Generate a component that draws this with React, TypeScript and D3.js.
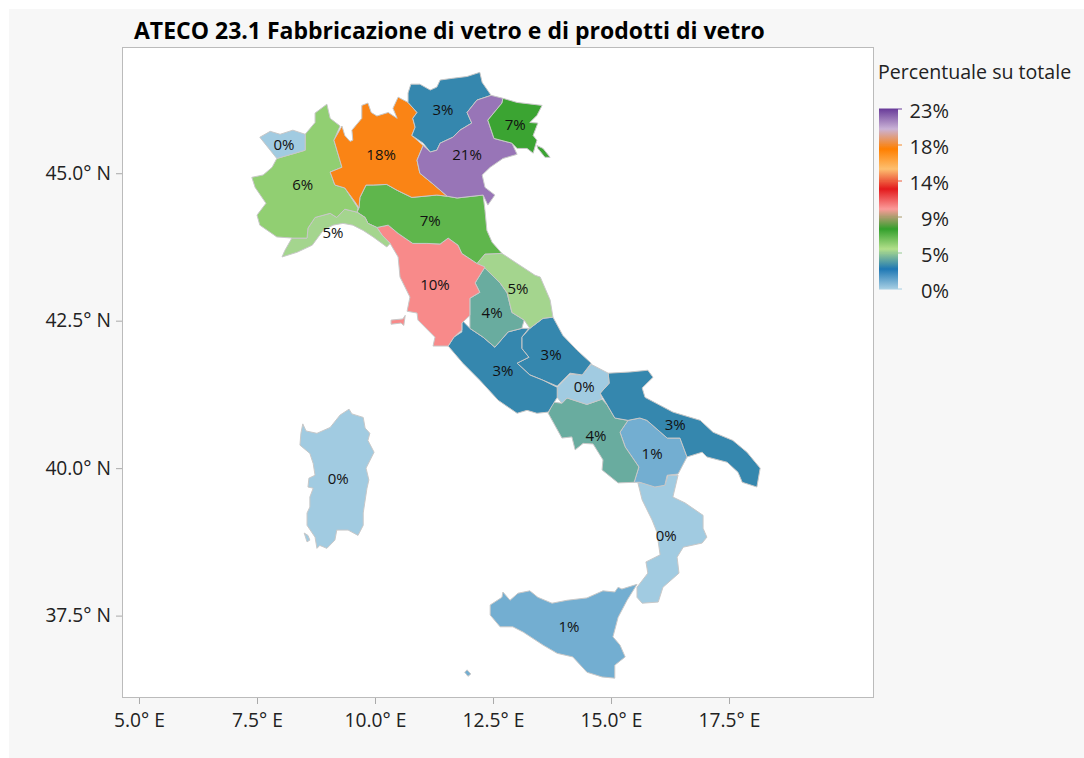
import * as d3 from "d3";
import { useEffect, useRef } from "react";

const W = 1084;
const H = 758;
const plot = { left: 122, right: 873, top: 47, bottom: 697 };

const titleText = "ATECO 23.1 Fabbricazione di vetro e di prodotti di vetro";
const legendTitle = "Percentuale su totale";
const lonTicks = [5, 7.5, 10, 12.5, 15, 17.5];
const latTicks = [37.5, 40, 42.5, 45];
const legendMax = 22.7;
const palette = ["#a6cee3", "#1f78b4", "#b2df8a", "#33a02c", "#fb9a99", "#e31a1c", "#fdbf6f", "#ff7f00", "#cab2d6", "#6a3d9a"];

type Ring = [number, number][];

const valleAosta: Ring = [[7.56, 45.61], [7.78, 45.71], [7.99, 45.66], [8.26, 45.73], [8.52, 45.66], [8.52, 45.39], [8.31, 45.34], [7.92, 45.25], [7.78, 45.39]];
const piemonte: Ring = [[7.92, 45.25], [8.31, 45.34], [8.52, 45.39], [8.52, 45.66], [8.73, 45.86], [8.73, 46.02], [8.98, 46.17], [9.05, 45.93], [9.26, 45.8], [9.13, 45.56], [9.3, 45.1], [9.05, 45.02], [9.15, 44.8], [9.36, 44.75], [9.64, 44.41], [9.62, 44.34], [9.36, 44.39], [9.19, 44.25], [9.05, 44.32], [8.73, 44.25], [8.58, 44.07], [8.56, 43.9], [8.26, 43.9], [7.92, 43.92], [7.56, 44.12], [7.5, 44.29], [7.69, 44.49], [7.46, 44.76], [7.39, 44.93], [7.63, 44.97], [7.82, 45.1]];
const liguria: Ring = [[8.58, 44.07], [8.73, 44.25], [9.05, 44.32], [9.19, 44.25], [9.36, 44.39], [9.62, 44.34], [9.79, 44.25], [9.85, 44.15], [10.04, 44.08], [10.15, 43.95], [10.32, 43.81], [10.25, 43.75], [9.96, 43.92], [9.75, 44.03], [9.53, 44.12], [9.32, 44.15], [9.11, 44.12], [8.9, 44.03], [8.67, 43.78], [8.35, 43.66], [8.03, 43.58], [8.09, 43.69], [8.24, 43.9], [8.56, 43.9]];
const lombardia: Ring = [[9.13, 45.56], [9.3, 45.8], [9.36, 45.64], [9.47, 45.54], [9.53, 45.56], [9.51, 45.73], [9.72, 45.93], [9.72, 46.15], [9.85, 46.19], [9.92, 46.03], [10.04, 45.97], [10.28, 46.03], [10.47, 45.93], [10.38, 46.1], [10.49, 46.29], [10.7, 46.2], [10.89, 46.03], [10.8, 45.93], [10.85, 45.78], [10.78, 45.64], [11.02, 45.47], [10.89, 45.22], [10.95, 45], [11.21, 44.83], [11.53, 44.61], [11.31, 44.63], [10.78, 44.59], [10.47, 44.71], [10.25, 44.81], [9.96, 44.8], [9.81, 44.8], [9.68, 44.59], [9.66, 44.41], [9.58, 44.51], [9.36, 44.75], [9.15, 44.8], [9.05, 45.02], [9.3, 45.1]];
const trentino: Ring = [[10.7, 46.36], [10.76, 46.51], [10.95, 46.51], [11.17, 46.41], [11.31, 46.46], [11.38, 46.58], [11.65, 46.61], [11.95, 46.64], [12.22, 46.71], [12.27, 46.54], [12.46, 46.32], [12.16, 46.24], [11.95, 46.03], [12.05, 45.85], [11.8, 45.73], [11.65, 45.61], [11.38, 45.51], [11.31, 45.39], [11.17, 45.36], [11.02, 45.51], [10.78, 45.64], [10.85, 45.78], [10.8, 45.93], [10.89, 46.03], [10.7, 46.2]];
const veneto: Ring = [[12.46, 46.32], [12.71, 46.27], [12.69, 46.19], [12.39, 45.9], [12.52, 45.59], [12.9, 45.51], [13.01, 45.32], [12.71, 45.25], [12.44, 45.1], [12.27, 44.97], [12.33, 44.76], [12.54, 44.63], [12.39, 44.46], [12.29, 44.63], [11.74, 44.58], [11.53, 44.61], [11.21, 44.83], [10.95, 45], [10.89, 45.22], [11.02, 45.47], [11.17, 45.36], [11.31, 45.39], [11.38, 45.51], [11.65, 45.61], [11.8, 45.73], [12.05, 45.85], [11.95, 46.03], [12.16, 46.24]];
const friuli: Ring = [[12.71, 46.27], [13.01, 46.2], [13.54, 46.15], [13.43, 45.98], [13.28, 45.86], [13.45, 45.85], [13.35, 45.64], [13.43, 45.56], [13.35, 45.34], [13.22, 45.42], [13.01, 45.42], [12.9, 45.51], [12.52, 45.59], [12.39, 45.9], [12.69, 46.19]];
const trieste: Ring = [[13.43, 45.47], [13.56, 45.42], [13.71, 45.27], [13.6, 45.27], [13.45, 45.42]];
const emilia: Ring = [[9.62, 44.34], [9.66, 44.41], [9.68, 44.59], [9.81, 44.8], [9.96, 44.8], [10.25, 44.81], [10.47, 44.71], [10.78, 44.59], [11.31, 44.63], [11.53, 44.61], [11.74, 44.58], [12.29, 44.63], [12.33, 44.37], [12.37, 44.03], [12.48, 43.83], [12.69, 43.64], [12.33, 43.63], [12.16, 43.47], [11.84, 43.64], [11.76, 43.78], [11.55, 43.9], [11.38, 43.8], [11.1, 43.81], [10.8, 43.81], [10.49, 43.98], [10.28, 44.12], [10.04, 44.08], [9.85, 44.15], [9.79, 44.25]];
const toscana: Ring = [[10.04, 44.08], [10.28, 44.12], [10.49, 43.98], [10.8, 43.81], [11.1, 43.81], [11.38, 43.8], [11.55, 43.9], [11.76, 43.78], [11.84, 43.64], [12.16, 43.47], [12.33, 43.41], [12.22, 43.27], [12.12, 43.14], [12.22, 42.98], [12.01, 42.88], [12.01, 42.59], [11.84, 42.46], [11.84, 42.34], [11.67, 42.22], [11.55, 42.07], [11.23, 42.07], [11.27, 42.22], [10.91, 42.51], [10.89, 42.63], [10.68, 42.66], [10.74, 42.9], [10.53, 43.24], [10.49, 43.58], [10.32, 43.81], [10.15, 43.95]];
const elba: Ring = [[10.34, 42.51], [10.59, 42.53], [10.64, 42.59], [10.61, 42.42], [10.55, 42.46], [10.34, 42.44]];
const marche: Ring = [[12.16, 43.47], [12.33, 43.63], [12.69, 43.64], [13.01, 43.47], [13.39, 43.27], [13.5, 43.24], [13.71, 42.85], [13.77, 42.56], [13.56, 42.54], [13.28, 42.37], [13.16, 42.51], [12.9, 42.64], [12.8, 42.97], [12.65, 43.14], [12.33, 43.39]];
const umbria: Ring = [[12.33, 43.41], [12.65, 43.14], [12.8, 42.97], [12.9, 42.64], [13.16, 42.51], [13.11, 42.37], [12.82, 42.31], [12.54, 42.05], [12.29, 42.22], [12.01, 42.37], [12.01, 42.59], [12.01, 42.88], [12.22, 42.98], [12.12, 43.14], [12.22, 43.27]];
const lazio: Ring = [[11.84, 42.51], [12.01, 42.37], [12.29, 42.22], [12.54, 42.05], [12.82, 42.31], [13.11, 42.37], [13.26, 42.37], [13.11, 42.22], [13.11, 42.03], [13.26, 41.88], [13.01, 41.78], [13.28, 41.58], [13.56, 41.49], [13.86, 41.37], [13.86, 41.2], [13.67, 40.95], [13.43, 40.93], [13.22, 40.98], [13.01, 40.93], [12.61, 41.15], [12.22, 41.49], [11.86, 41.78], [11.55, 42.07], [11.67, 42.22], [11.84, 42.31]];
const abruzzo: Ring = [[13.28, 42.37], [13.56, 42.54], [13.77, 42.56], [13.98, 42.25], [14.28, 42], [14.58, 41.78], [14.39, 41.58], [14.13, 41.61], [13.86, 41.39], [13.56, 41.49], [13.28, 41.58], [13.01, 41.78], [13.26, 41.88], [13.11, 42.03], [13.11, 42.22]];
const molise: Ring = [[13.86, 41.37], [14.13, 41.59], [14.39, 41.58], [14.58, 41.76], [14.94, 41.61], [14.96, 41.44], [14.77, 41.27], [14.81, 41.17], [14.49, 41.08], [14.07, 41.19], [13.96, 41.1], [13.86, 41.2]];
const campania: Ring = [[13.67, 40.93], [13.77, 41.12], [13.96, 41.1], [14.07, 41.19], [14.49, 41.08], [14.81, 41.17], [14.92, 41.07], [15.08, 40.85], [15.36, 40.81], [15.19, 40.61], [15.3, 40.36], [15.59, 40.02], [15.49, 39.76], [15.15, 39.75], [14.81, 39.97], [14.83, 40.14], [14.62, 40.41], [14.41, 40.42], [14.24, 40.31], [14.17, 40.53], [13.96, 40.51]];
const puglia: Ring = [[14.94, 41.61], [15.4, 41.63], [15.78, 41.66], [15.89, 41.54], [15.66, 41.36], [15.72, 41.2], [16.31, 40.95], [16.89, 40.81], [17.16, 40.61], [17.58, 40.47], [17.88, 40.27], [18.16, 40], [18.09, 39.68], [17.78, 39.76], [17.69, 39.93], [17.46, 40.1], [17.03, 40.19], [16.93, 40.27], [16.61, 40.19], [16.46, 40.51], [16.19, 40.51], [15.76, 40.81], [15.61, 40.85], [15.36, 40.81], [15.08, 40.85], [14.92, 41.07], [14.77, 41.27], [14.96, 41.44]];
const basilicata: Ring = [[15.36, 40.81], [15.61, 40.85], [15.76, 40.81], [16.19, 40.51], [16.46, 40.51], [16.61, 40.19], [16.42, 39.9], [16.19, 39.88], [16.14, 39.71], [15.93, 39.68], [15.61, 39.76], [15.49, 39.76], [15.59, 40.02], [15.3, 40.36], [15.19, 40.61]];
const calabria: Ring = [[15.57, 39.75], [15.76, 39.75], [15.93, 39.68], [16.14, 39.71], [16.21, 39.88], [16.42, 39.88], [16.31, 39.51], [16.57, 39.41], [16.95, 39.2], [16.95, 38.98], [17.03, 38.83], [16.93, 38.73], [16.53, 38.66], [16.4, 38.49], [16.44, 38.22], [16.1, 37.98], [16, 37.73], [15.66, 37.71], [15.55, 37.81], [15.55, 37.98], [15.78, 38.22], [15.74, 38.41], [16.04, 38.53], [15.97, 38.92], [15.87, 39.12], [15.66, 39.46]];
const sicilia: Ring = [[12.44, 37.68], [12.69, 37.81], [12.71, 37.9], [12.86, 37.76], [13.03, 37.88], [13.28, 37.92], [13.45, 37.81], [13.75, 37.71], [14.07, 37.76], [14.49, 37.8], [14.83, 37.92], [15.08, 37.9], [15.15, 37.98], [15.23, 37.95], [15.55, 38.03], [15.34, 37.76], [15.15, 37.47], [15.04, 37.14], [15.19, 37], [15.3, 36.8], [15.08, 36.66], [15.08, 36.44], [14.81, 36.46], [14.49, 36.54], [14.19, 36.8], [13.86, 36.86], [13.56, 37], [13.14, 37.22], [12.92, 37.31], [12.65, 37.31], [12.44, 37.51]];
const sardegna: Ring = [[8.47, 40.75], [8.54, 40.63], [8.77, 40.59], [9.05, 40.69], [9.26, 40.9], [9.45, 41], [9.51, 40.92], [9.75, 40.86], [9.79, 40.68], [9.89, 40.59], [9.85, 40.47], [9.98, 40.27], [9.81, 40], [9.87, 39.8], [9.83, 39.66], [9.75, 39.24], [9.75, 39.03], [9.64, 38.86], [9.43, 38.95], [9.19, 38.95], [9.15, 38.78], [8.98, 38.64], [8.83, 38.69], [8.77, 38.64], [8.73, 38.83], [8.56, 39.03], [8.56, 39.24], [8.62, 39.34], [8.62, 39.51], [8.69, 39.66], [8.58, 39.68], [8.6, 39.83], [8.73, 39.88], [8.69, 40.08], [8.62, 40.25], [8.41, 40.39], [8.43, 40.59]];
const santAntioco: Ring = [[8.5, 38.9], [8.58, 38.86], [8.62, 38.78], [8.56, 38.75]];
const lampedusa: Ring = [[11.9, 36.54], [11.95, 36.58], [12.03, 36.51], [11.97, 36.47]];

const regions: { name: string; rings: Ring[]; value: number; label: [number, number] }[] = [
  { name: "Sardegna", rings: [sardegna, santAntioco], value: 0.1, label: [9.22, 39.83] },
  { name: "Sicilia", rings: [sicilia, lampedusa], value: 0.95, label: [14.11, 37.31] },
  { name: "Calabria", rings: [calabria], value: 0.1, label: [16.17, 38.85] },
  { name: "Basilicata", rings: [basilicata], value: 0.95, label: [15.87, 40.24] },
  { name: "Campania", rings: [campania], value: 3.8, label: [14.68, 40.56] },
  { name: "Puglia", rings: [puglia], value: 2.9, label: [16.36, 40.73] },
  { name: "Molise", rings: [molise], value: 0.1, label: [14.43, 41.39] },
  { name: "Abruzzo", rings: [abruzzo], value: 2.9, label: [13.73, 41.92] },
  { name: "Lazio", rings: [lazio], value: 2.9, label: [12.71, 41.66] },
  { name: "Umbria", rings: [umbria], value: 3.8, label: [12.48, 42.64] },
  { name: "Marche", rings: [marche], value: 4.8, label: [13.03, 43.05] },
  { name: "Toscana", rings: [toscana, elba], value: 10.4, label: [11.27, 43.12] },
  { name: "Emilia-Romagna", rings: [emilia], value: 6.7, label: [11.17, 44.19] },
  { name: "Liguria", rings: [liguria], value: 4.8, label: [9.11, 44.0] },
  { name: "Piemonte", rings: [piemonte], value: 5.7, label: [8.47, 44.8] },
  { name: "Valle d'Aosta", rings: [valleAosta], value: 0.1, label: [8.07, 45.49] },
  { name: "Lombardia", rings: [lombardia], value: 17.9, label: [10.13, 45.31] },
  { name: "Trentino", rings: [trentino], value: 2.9, label: [11.44, 46.08] },
  { name: "Veneto", rings: [veneto], value: 21.49, label: [11.95, 45.31] },
  { name: "Friuli", rings: [friuli, trieste], value: 7.4, label: [12.97, 45.83] }
];

const FONT = "'Open Sans', 'Noto Sans', sans-serif";

export default function App() {
  const ref = useRef<SVGSVGElement>(null);

  useEffect(() => {
    const svg = d3.select(ref.current);
    svg.selectAll("*").remove();

    const x = d3.scaleLinear().domain([4.64, 20.55]).range([plot.left, plot.right]);
    const y = d3.scaleLinear().domain([36.12, 47.14]).range([plot.bottom, plot.top]);

    const stops = palette.map((_, i) => (i * legendMax) / (palette.length - 1));
    const color = d3.scaleLinear<string>().domain(stops).range(palette).interpolate(d3.interpolateRgb);

    svg.append("rect").attr("x", 9).attr("y", 9).attr("width", W - 9).attr("height", H - 9).attr("fill", "#f7f7f7");
    svg.append("rect")
      .attr("x", plot.left + 0.5).attr("y", plot.top + 0.5)
      .attr("width", plot.right - plot.left).attr("height", plot.bottom - plot.top)
      .attr("fill", "#fff").attr("stroke", "#bbb");

    svg.append("text").attr("x", 134).attr("y", 39)
      .attr("font-family", FONT).attr("font-size", 23).attr("font-weight", 700).attr("fill", "#000")
      .text(titleText);

    // Assi
    const xAxis = svg.append("g")
      .attr("transform", `translate(0,${plot.bottom + 1})`)
      .call(d3.axisBottom(x).tickValues(lonTicks).tickSize(6).tickPadding(9).tickFormat(d => `${d3.format(".1f")(d as number)}° E`));
    const yAxis = svg.append("g")
      .attr("transform", `translate(${plot.left},0)`)
      .call(d3.axisLeft(y).tickValues(latTicks).tickSize(6).tickPadding(5).tickFormat(d => `${d3.format(".1f")(d as number)}° N`));
    [xAxis, yAxis].forEach(a => {
      a.select(".domain").remove();
      a.selectAll("line").attr("stroke", "#aaa");
      a.selectAll("text").attr("font-family", FONT).attr("font-size", 19.2).attr("fill", "#222");
    });

    // Regioni
    const line = d3.line<[number, number]>().x(d => x(d[0])).y(d => y(d[1])).curve(d3.curveLinearClosed);
    svg.append("g").selectAll("path")
      .data(regions)
      .join("path")
      .attr("d", d => d.rings.map(r => line(r)).join(""))
      .attr("fill", d => color(d.value))
      .attr("stroke", "#c8c8c8")
      .attr("stroke-width", 1)
      .attr("stroke-linejoin", "round");

    svg.append("g").selectAll("text")
      .data(regions)
      .join("text")
      .attr("x", d => x(d.label[0]))
      .attr("y", d => y(d.label[1]))
      .attr("dy", "0.36em")
      .attr("text-anchor", "middle")
      .attr("font-family", FONT).attr("font-size", 15).attr("fill", "#111")
      .text(d => `${d3.format(".0f")(d.value)}%`);

    // Legenda
    const legend = d3.scaleLinear().domain([0, legendMax]).range([289, 109]);
    const defs = svg.append("defs");
    const grad = defs.append("linearGradient").attr("id", "legendGrad").attr("x1", 0).attr("x2", 0).attr("y1", 1).attr("y2", 0);
    palette.forEach((c, i) => grad.append("stop").attr("offset", i / (palette.length - 1)).attr("stop-color", c));

    svg.append("text").attr("x", 878).attr("y", 79)
      .attr("font-family", FONT).attr("font-size", 19.6).attr("fill", "#222")
      .text(legendTitle);
    svg.append("rect").attr("x", 879).attr("y", legend(legendMax)).attr("width", 19)
      .attr("height", legend(0) - legend(legendMax)).attr("fill", "url(#legendGrad)");

    const legendTicks = d3.range(0, 6).map(i => (i * legendMax) / 5);
    svg.append("g").selectAll("line").data(legendTicks).join("line")
      .attr("x1", 879).attr("x2", 902)
      .attr("y1", d => legend(d)).attr("y2", d => legend(d))
      .attr("stroke", d => color(d)).attr("stroke-width", 1);
    svg.append("g").selectAll("text").data(legendTicks).join("text")
      .attr("x", 949).attr("y", d => legend(d) + 2)
      .attr("dy", "0.36em")
      .attr("text-anchor", "end")
      .attr("font-family", FONT).attr("font-size", 20).attr("fill", "#222")
      .text(d => `${d3.format(".0f")(d)}%`);
  }, []);

  return <svg ref={ref} width={W} height={H} style={{ position: "absolute", left: 0, top: 0 }} />;
}
